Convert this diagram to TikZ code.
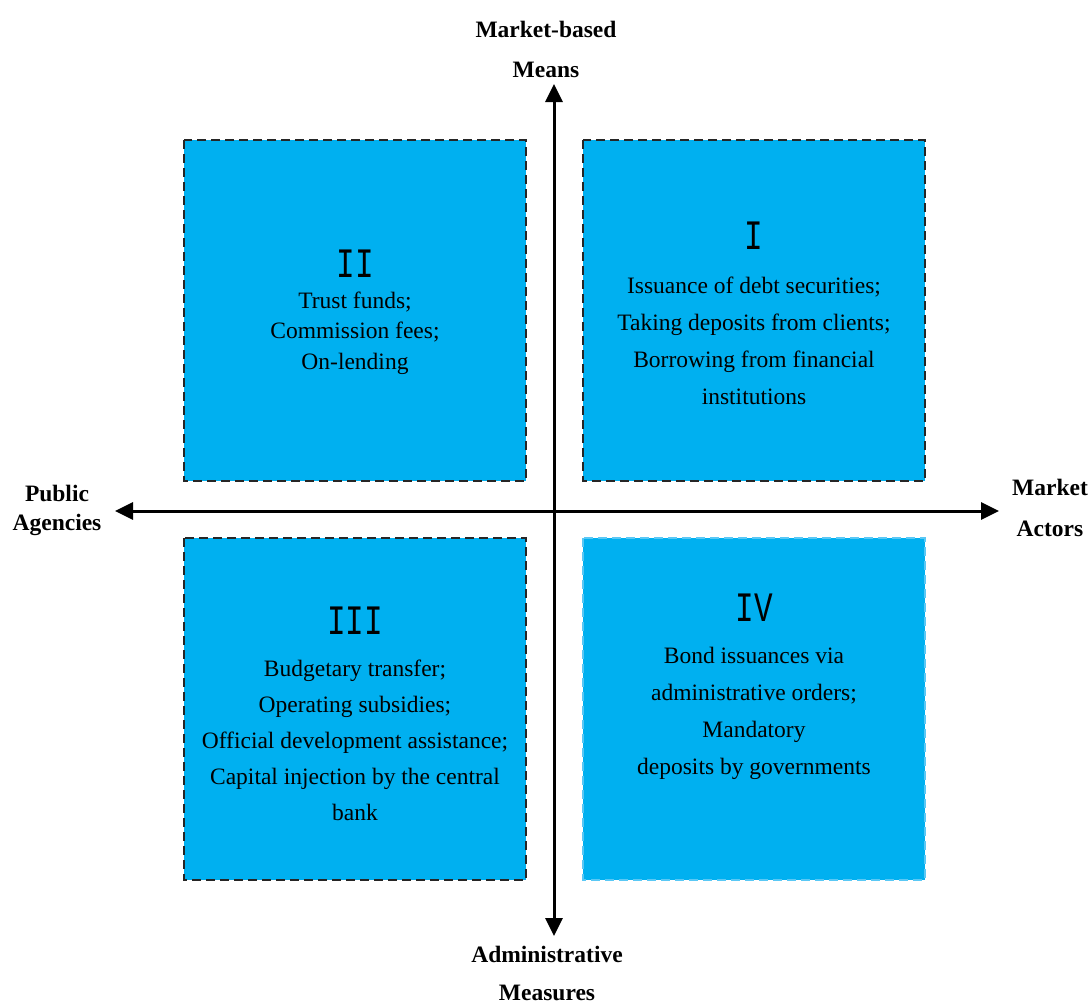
\documentclass[tikz,border=0pt]{standalone}
\usepackage{fontspec}
\setmainfont{Liberation Serif}
\newfontfamily\numfont{Liberation Mono}
\usetikzlibrary{arrows.meta}
\definecolor{qfill}{RGB}{0,176,240}
\definecolor{qedge}{RGB}{90,200,245}
\begin{document}
\begin{tikzpicture}[x=1pt,y=-1pt,
  quad/.style={fill=qfill,draw=black!85,line width=1.6pt,dash pattern=on 9pt off 5pt},
  quadlight/.style={fill=qfill,draw=qedge,line width=1.6pt,dash pattern=on 9pt off 5pt},
  numstyle/.style={inner sep=0pt,font=\numfont\fontsize{31}{31}\selectfont},
  body/.style={inner sep=0pt,align=center},
  axlabel/.style={inner sep=0pt,align=center},
  axis/.style={line width=3pt,{Triangle[length=18pt,width=17pt]}-{Triangle[length=18pt,width=17pt]}}
]
\useasboundingbox (0,0) rectangle (1092,1005);
% quadrant boxes
\path[quad] (184,140) rectangle (526,481);
\path[quad] (583,140) rectangle (925,481);
\path[quad] (184,538) rectangle (526,880);
\path[quadlight] (583,538) rectangle (925,880);
% numerals
\node[numstyle] (nI) at (754,236) {\scalebox{1}[1.35]{I}};
\node[numstyle] (nII) at (355,264) {\scalebox{1}[1.35]{II}};
\node[numstyle] (nIII) at (355,621) {\scalebox{1}[1.35]{III}};
\node[numstyle] (nIV) at (754,608) {\scalebox{1}[1.35]{IV}};
% body texts
\node[body,font=\fontsize{23.5}{37}\selectfont] (tI) at (754,341) {Issuance of debt securities;\\Taking deposits from clients;\\Borrowing from financial\\institutions};
\node[body,font=\fontsize{23.5}{30.5}\selectfont] (tII) at (355,333) {Trust funds;\\Commission fees;\\On-lending};
\node[body,font=\fontsize{23.5}{36}\selectfont] (tIII) at (355,740) {Budgetary transfer;\\Operating subsidies;\\Official development assistance;\\Capital injection by the central\\bank};
\node[body,font=\fontsize{23.5}{37}\selectfont] (tIV) at (754,713) {Bond issuances via\\administrative orders;\\Mandatory\\deposits by governments};
% axis labels
\node[axlabel,font=\bfseries\fontsize{23.5}{40}\selectfont] (top) at (546,49) {Market-based\\Means};
\node[axlabel,font=\bfseries\fontsize{23.5}{38}\selectfont] (bot) at (547,973) {Administrative\\Measures};
\node[axlabel,font=\bfseries\fontsize{23.5}{29}\selectfont] (left) at (57,510) {Public\\Agencies};
\node[axlabel,font=\bfseries\fontsize{23.5}{41}\selectfont] (right) at (1050,508) {Market\\Actors};
% axes
\coordinate (L) at (115,511);
\coordinate (R) at (999,511);
\coordinate (T) at (554,84);
\coordinate (B) at (554,936);
\draw[axis] (L) -- (R);
\draw[axis] (T) -- (B);
\end{tikzpicture}
\end{document}
